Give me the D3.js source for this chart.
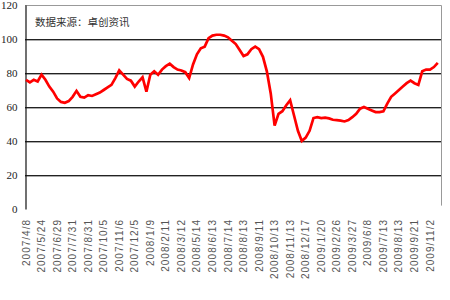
<!DOCTYPE html>
<html lang="zh">
<head>
    <meta charset="UTF-8">
    <title>价格走势</title>
    <script src="https://cdnjs.cloudflare.com/ajax/libs/d3/7.8.5/d3.min.js"></script>
    <style>
        body { margin: 0; background: #fff; }
        .grid-dark { stroke: #222; stroke-width: 1px; }
        .grid-shadow { stroke: #aaa; stroke-width: 1px; }
        .frame { stroke: #999; stroke-width: 1px; fill: none; }
        .y-axis text { font: 11px "Liberation Serif", serif; fill: #222; }
        .x-label { font: 10px "Liberation Sans", Arial, sans-serif; letter-spacing: 1px; fill: #555; }
        .source { font: 10.5px "Noto Sans CJK SC", sans-serif; fill: #333; }
        .series { fill: none; stroke: #ff0000; stroke-width: 2.7px; stroke-linejoin: miter; }
    </style>
</head>
<body>
    <svg width="450" height="300"></svg>
    <script>
        // x-axis labels, one every 4 readings
        const dateLabels = [
            "2007/4/8", "2007/5/24", "2007/6/29", "2007/7/31", "2007/8/31",
            "2007/10/5", "2007/11/6", "2007/12/5", "2008/1/9", "2008/2/11",
            "2008/3/12", "2008/5/14", "2008/6/13", "2008/7/14", "2008/8/13",
            "2008/9/11", "2008/10/13", "2008/11/13", "2008/12/17", "2009/1/20",
            "2009/2/26", "2009/3/27", "2009/6/8", "2009/7/13", "2009/8/13",
            "2009/9/21", "2009/11/2"
        ];
        const perLabel = 4;

        // price index readings
        const prices = [
            76, 74.5, 76, 75, 79, 76, 72, 69, 65, 63,
            62.5, 63.5, 66, 69.5, 66, 65.5, 67, 66.5, 67.5, 68.5,
            70, 71.5, 73, 77, 81.5, 79, 76.5, 75.5, 72, 75,
            77.5, 69, 79, 81, 79, 82, 84, 85.5, 83.5, 82,
            81.5, 80.5, 77, 85, 91, 94.5, 95.5, 100.5, 102, 102.5,
            102.5, 102, 101, 99, 97, 93.5, 90, 91, 94, 95.5,
            94, 89.5, 81, 68, 49, 56, 57.5, 61, 64, 55,
            46, 40, 42, 46, 53.5, 54, 53.5, 53.7, 53.3, 52.5,
            52.3, 52, 51.5, 52.3, 54, 56, 59, 60, 59, 58,
            57, 57, 57.5, 62, 66, 68, 70, 72, 74, 75.5,
            74, 73, 81, 82, 82, 83.5, 86
        ];
        const yTicks = [0, 20, 40, 60, 80, 100, 120];

        const svg = d3.select("svg");

        const x = d3.scaleLinear()
            .domain([0, (dateLabels.length - 1) * perLabel])
            .range([26, 430]);
        const y = d3.scaleLinear()
            .domain([0, 120])
            .range([209, 5]);

        const left = 25, right = 441;

        // gridlines (dark line with a light shadow under it)
        const grid = svg.append("g");
        grid.selectAll(".grid-shadow")
            .data(yTicks.filter(d => d > 0 && d < 120))
            .enter().append("line")
            .attr("class", "grid-shadow")
            .attr("x1", left).attr("x2", right)
            .attr("y1", d => y(d) + 1.5).attr("y2", d => y(d) + 1.5);
        grid.selectAll(".grid-dark")
            .data(yTicks.filter(d => d > 0 && d < 120))
            .enter().append("line")
            .attr("class", "grid-dark")
            .attr("x1", left).attr("x2", right)
            .attr("y1", d => y(d) + 0.5).attr("y2", d => y(d) + 0.5);

        // top and right frame
        svg.append("path")
            .attr("class", "frame")
            .attr("d", `M${left},${y(120) + 0.5}H${right + 0.5}V${y(2)}`);

        // y axis
        const yAxis = svg.append("g")
            .attr("class", "y-axis")
            .attr("transform", `translate(${left + 0.5},0)`)
            .call(d3.axisLeft(y).tickValues(yTicks).tickSize(0).tickPadding(8));
        yAxis.select(".domain").attr("stroke", "#111").attr("stroke-width", 1.2);

        // x labels, rotated
        svg.append("g").selectAll("text")
            .data(dateLabels)
            .enter().append("text")
            .attr("class", "x-label")
            .attr("text-anchor", "end")
            .attr("transform", (d, i) => `translate(${x(i * perLabel) + 3.5},219) rotate(-90)`)
            .text(d => d);

        // source note
        svg.append("text")
            .attr("class", "source")
            .attr("x", 35)
            .attr("y", 26)
            .text("数据来源：卓创资讯");

        // price line
        const line = d3.line()
            .x((d, i) => x(i))
            .y(d => y(d));
        svg.append("path")
            .datum(prices)
            .attr("class", "series")
            .attr("d", line);
    </script>
</body>
</html>
